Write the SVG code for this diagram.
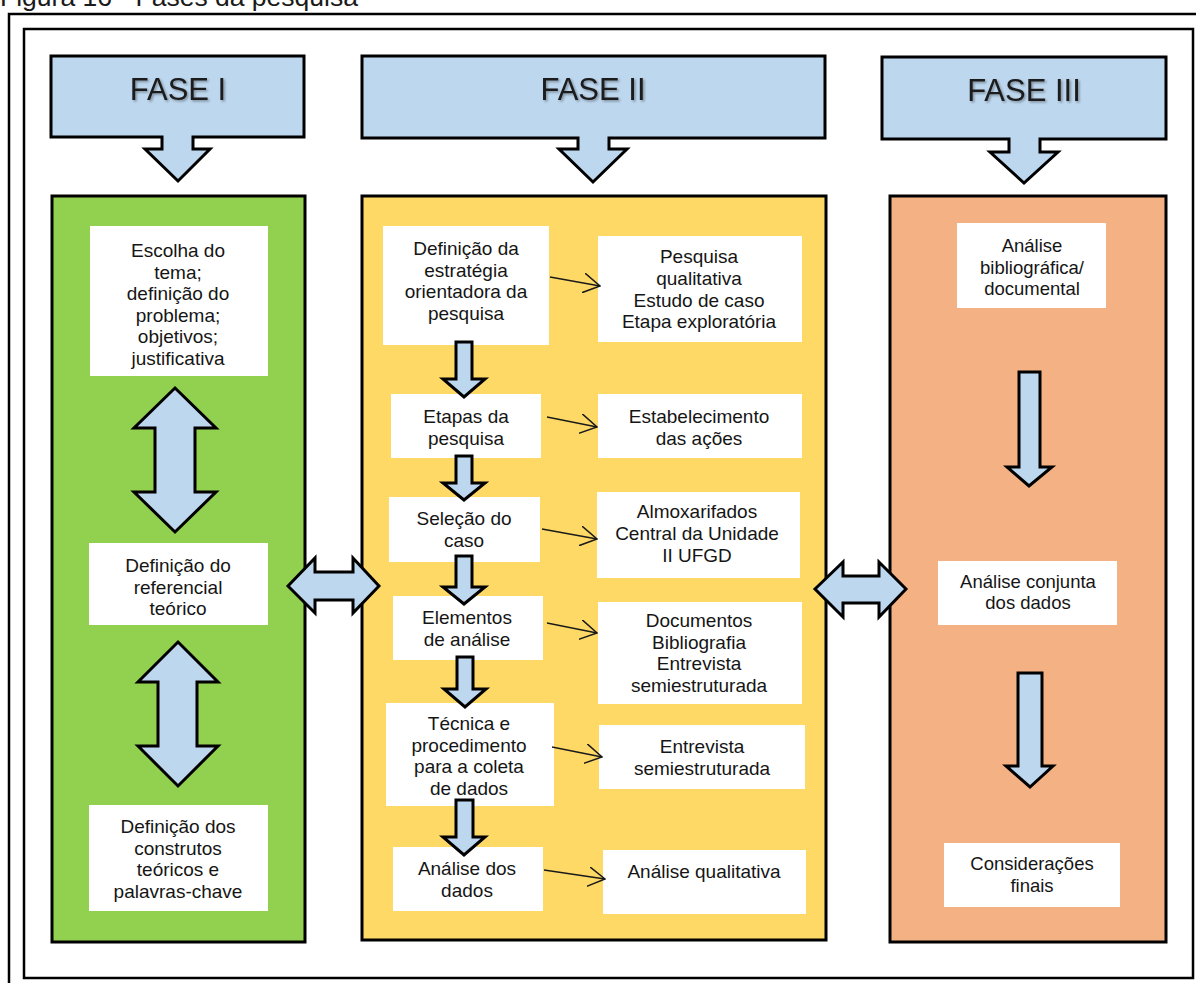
<svg xmlns="http://www.w3.org/2000/svg" width="1196" height="983" viewBox="0 0 1196 983">
  <defs>
    <style>
      .frame { fill: none; stroke: #000; stroke-width: 2.5; }
      .panel { stroke: #000; stroke-width: 3; }
      .green { fill: #92D050; }
      .yellow { fill: #FFD966; }
      .orange { fill: #F4B183; }
      .box { fill: #fff; stroke: none; }
      .blk { fill: #BDD7EE; stroke: #000; stroke-width: 3; stroke-linejoin: miter; }
      .thin { fill: none; stroke: #1a1a1a; stroke-width: 1.5; }
      .t { font-family: "Liberation Sans", Arial, sans-serif; font-size: 19px; fill: #151515; text-anchor: middle; }
      .ts { font-size: 18.5px; }
      .fase { font-family: "Liberation Sans", Arial, sans-serif; font-size: 31px; fill: #1a1a1a; text-anchor: middle; }
      .cap { font-family: "Liberation Sans", Arial, sans-serif; font-size: 26.5px; fill: #1a1a1a; }
    </style>
    <filter id="soft" x="-10%" y="-20%" width="130%" height="160%">
      <feDropShadow dx="1.5" dy="1.5" stdDeviation="1.2" flood-color="#000" flood-opacity="0.35"/>
    </filter>
    <marker id="open" markerUnits="userSpaceOnUse" viewBox="0 0 18 20" markerWidth="18" markerHeight="20" refX="17" refY="10" orient="auto">
      <path d="M0,0 L17,10 L0,20" fill="none" stroke="#1a1a1a" stroke-width="1.5"/>
    </marker>
  </defs>

  <rect width="1196" height="983" fill="#fff"/>

  <!-- caption (clipped at the top edge) -->
  <text class="cap" x="0" y="6">Figura 16 - Fases da pesquisa</text>

  <!-- page frames -->
  <rect class="frame" x="9" y="14" width="1200" height="990"/>
  <rect class="frame" x="24" y="29" width="1169" height="949"/>

  <!-- phase headers -->
  <g id="fase1">
    <path class="blk" d="M51,56 H304 V137 H193 V149 H210 L178,181 L145,149 H162 V137 H51 Z"/>
    <text class="fase" x="178" y="100" filter="url(#soft)">FASE I</text>
  </g>
  <g id="fase2">
    <path class="blk" d="M362,56 H825 V138 H609 V149 H627 L593,182 L559,149 H578 V138 H362 Z"/>
    <text class="fase" x="593" y="100" filter="url(#soft)">FASE II</text>
  </g>
  <g id="fase3">
    <path class="blk" d="M882,57 H1166 V139 H1040 V152 H1058 L1024,183 L990,152 H1009 V139 H882 Z"/>
    <text class="fase" x="1024" y="101" filter="url(#soft)">FASE III</text>
  </g>

  <!-- phase panels -->
  <g id="panel1"><rect class="panel green" x="52" y="196" width="253" height="746"/></g>
  <g id="panel2"><rect class="panel yellow" x="362" y="196" width="464" height="744"/></g>
  <g id="panel3"><rect class="panel orange" x="890" y="196" width="276" height="746"/></g>

  <!-- phase I steps -->
  <g id="tema">
    <rect class="box" x="90" y="226" width="178" height="150"/>
    <text class="t" x="178" y="257">Escolha do</text>
    <text class="t" x="178" y="278.5">tema;</text>
    <text class="t" x="178" y="300">definição do</text>
    <text class="t" x="178" y="322">problema;</text>
    <text class="t" x="178" y="343">objetivos;</text>
    <text class="t" x="178" y="365">justificativa</text>
  </g>
  <g id="referencial">
    <rect class="box" x="89" y="543" width="179" height="82"/>
    <text class="t" x="178" y="572">Definição do</text>
    <text class="t" x="178" y="593.5">referencial</text>
    <text class="t" x="178" y="615">teórico</text>
  </g>
  <g id="construtos">
    <rect class="box" x="89" y="805" width="179" height="106"/>
    <text class="t" x="178" y="833">Definição dos</text>
    <text class="t" x="178" y="855">construtos</text>
    <text class="t" x="178" y="876">teóricos e</text>
    <text class="t" x="178" y="898">palavras-chave</text>
  </g>

  <!-- phase II steps -->
  <g id="estrategia">
    <rect class="box" x="383" y="226" width="166" height="119"/>
    <text class="t" x="466" y="255">Definição da</text>
    <text class="t" x="466" y="277">estratégia</text>
    <text class="t" x="466" y="298">orientadora da</text>
    <text class="t" x="466" y="320">pesquisa</text>
  </g>
  <g id="qualitativa">
    <rect class="box" x="598" y="236" width="204" height="106"/>
    <text class="t" x="699" y="263">Pesquisa</text>
    <text class="t" x="699" y="285">qualitativa</text>
    <text class="t" x="699" y="306.5">Estudo de caso</text>
    <text class="t" x="699" y="328">Etapa exploratória</text>
  </g>
  <g id="etapas">
    <rect class="box" x="391" y="394" width="150" height="64"/>
    <text class="t" x="466" y="423">Etapas da</text>
    <text class="t" x="466" y="445">pesquisa</text>
  </g>
  <g id="acoes">
    <rect class="box" x="598" y="394" width="204" height="64"/>
    <text class="t" x="699" y="423">Estabelecimento</text>
    <text class="t" x="699" y="445">das ações</text>
  </g>
  <g id="caso">
    <rect class="box" x="389" y="497" width="151" height="65"/>
    <text class="t" x="464" y="525">Seleção do</text>
    <text class="t" x="464" y="547">caso</text>
  </g>
  <g id="almox">
    <rect class="box" x="597" y="492" width="203" height="86"/>
    <text class="t" x="697" y="518">Almoxarifados</text>
    <text class="t" x="697" y="540">Central da Unidade</text>
    <text class="t" x="697" y="562">II UFGD</text>
  </g>
  <g id="elementos">
    <rect class="box" x="393" y="596" width="150" height="64"/>
    <text class="t" x="467" y="624">Elementos</text>
    <text class="t" x="467" y="646">de análise</text>
  </g>
  <g id="documentos">
    <rect class="box" x="598" y="602" width="204" height="102"/>
    <text class="t" x="699" y="627">Documentos</text>
    <text class="t" x="699" y="649">Bibliografia</text>
    <text class="t" x="699" y="670">Entrevista</text>
    <text class="t" x="699" y="692">semiestruturada</text>
  </g>
  <g id="tecnica">
    <rect class="box" x="386" y="703" width="168" height="103"/>
    <text class="t" x="469" y="730">Técnica e</text>
    <text class="t" x="469" y="752">procedimento</text>
    <text class="t" x="469" y="773">para a coleta</text>
    <text class="t" x="469" y="795">de dados</text>
  </g>
  <g id="entrevista">
    <rect class="box" x="599" y="725" width="206" height="64"/>
    <text class="t" x="702" y="753">Entrevista</text>
    <text class="t" x="702" y="775">semiestruturada</text>
  </g>
  <g id="analise-dados">
    <rect class="box" x="393" y="847" width="150" height="64"/>
    <text class="t" x="467" y="875">Análise dos</text>
    <text class="t" x="467" y="897">dados</text>
  </g>
  <g id="analise-qual">
    <rect class="box" x="603" y="850" width="203" height="64"/>
    <text class="t" x="704" y="878">Análise qualitativa</text>
  </g>

  <!-- phase III steps -->
  <g id="bibliografica">
    <rect class="box" x="957" y="223" width="149" height="85"/>
    <text class="t ts" x="1032" y="252">Análise</text>
    <text class="t ts" x="1032" y="274">bibliográfica/</text>
    <text class="t ts" x="1032" y="295">documental</text>
  </g>
  <g id="conjunta">
    <rect class="box" x="938" y="561" width="179" height="64"/>
    <text class="t ts" x="1028" y="588">Análise conjunta</text>
    <text class="t ts" x="1028" y="609">dos dados</text>
  </g>
  <g id="consideracoes">
    <rect class="box" x="944" y="843" width="176" height="64"/>
    <text class="t ts" x="1032" y="870">Considerações</text>
    <text class="t ts" x="1032" y="892">finais</text>
  </g>

  <!-- connectors -->
  <g id="connectors">
    <!-- phase I two-way arrows -->
    <path class="blk" d="M175,388 L216,428 H195 V492 H216 L175,532 L134,492 H155 V428 H134 Z"/>
    <path class="blk" d="M178,642 L218,682 H197 V746 H218 L178,786 L138,746 H158 V682 H138 Z"/>

    <!-- links between panels -->
    <path class="blk" d="M288,586 L315,558 V572 H353 V558 L379,586 L353,613 V600 H315 V613 Z"/>
    <path class="blk" d="M815,589 L843,562 V576 H879 V562 L906,589 L879,617 V603 H843 V617 Z"/>

    <!-- phase II sequence -->
    <path class="blk" d="M456,342 H472 V379 H485 L464,397 L443,379 H456 Z"/>
    <path class="blk" d="M456,456 H472 V483 H485 L464,500 L443,483 H456 Z"/>
    <path class="blk" d="M456,556 H472 V587 H485 L464,604 L443,587 H456 Z"/>
    <path class="blk" d="M457,657 H473 V689 H486 L465,707 L444,689 H457 Z"/>
    <path class="blk" d="M456,800 H473 V837 H485 L464,855 L443,837 H456 Z"/>

    <!-- phase II outcome arrows -->
    <line class="thin" x1="550" y1="277" x2="600" y2="286" marker-end="url(#open)"/>
    <line class="thin" x1="547" y1="417" x2="597" y2="427" marker-end="url(#open)"/>
    <line class="thin" x1="542" y1="529" x2="597" y2="539" marker-end="url(#open)"/>
    <line class="thin" x1="547" y1="623" x2="597" y2="633" marker-end="url(#open)"/>
    <line class="thin" x1="552" y1="747" x2="602" y2="757" marker-end="url(#open)"/>
    <line class="thin" x1="544" y1="870" x2="605" y2="879" marker-end="url(#open)"/>

    <!-- phase III sequence -->
    <path class="blk" d="M1019,372 H1040 V467 H1052 L1029,486 L1007,467 H1019 Z"/>
    <path class="blk" d="M1018,673 H1042 V766 H1053 L1030,787 L1006,766 H1018 Z"/>
  </g>
</svg>
